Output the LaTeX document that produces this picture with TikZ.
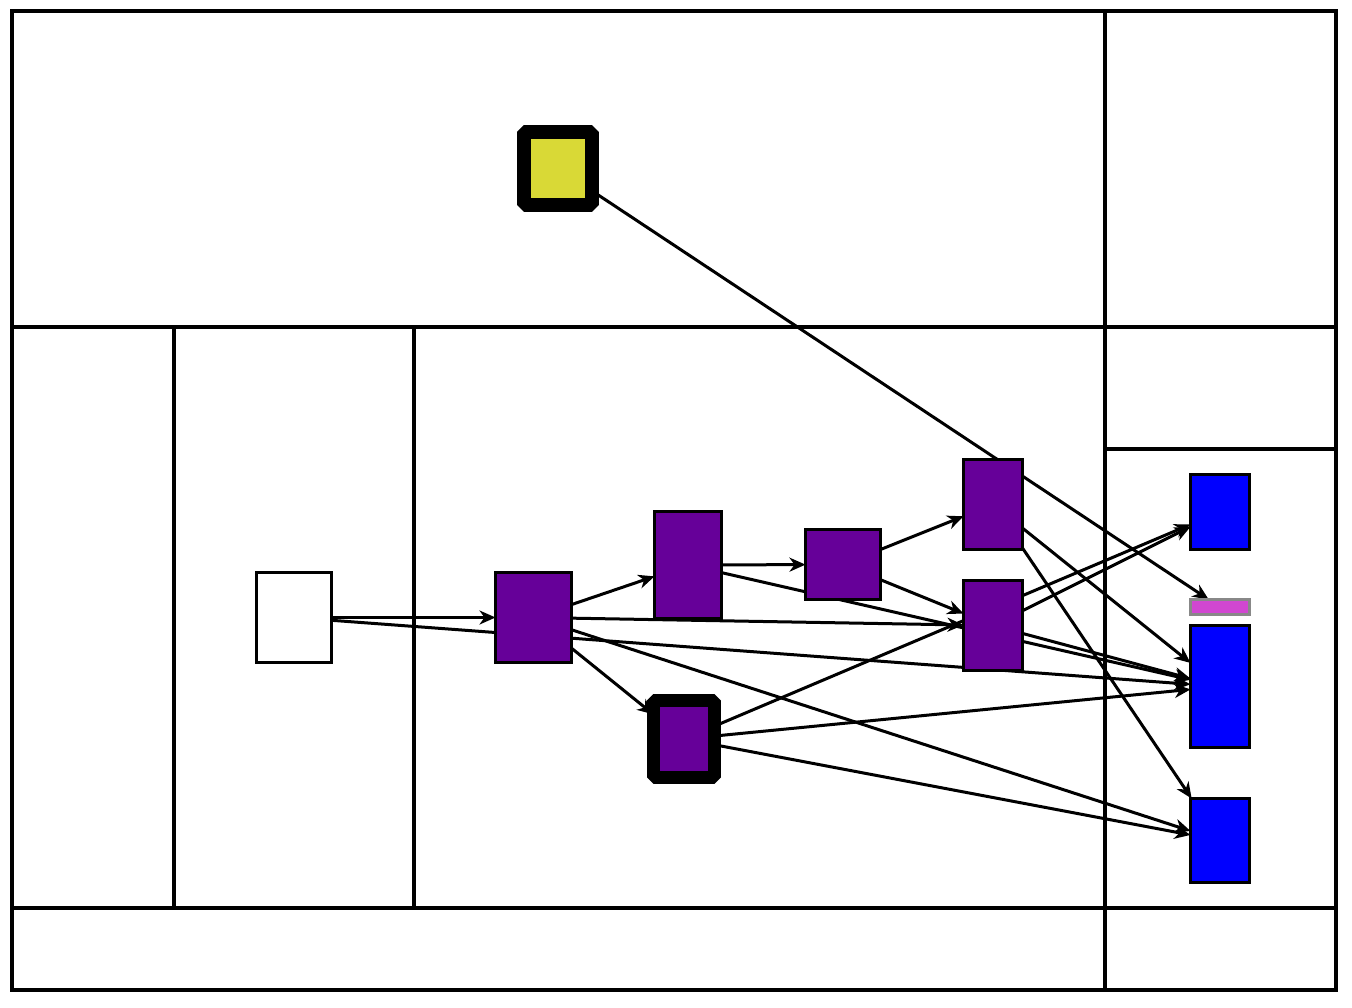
\documentclass[tikz,border=0pt]{standalone}
\usetikzlibrary{arrows.meta,backgrounds}
\definecolor{nodepurple}{RGB}{102,0,153}
\definecolor{nodeyellow}{RGB}{217,217,54}
\definecolor{nodeblue}{RGB}{0,0,255}
\definecolor{nodepink}{RGB}{209,71,209}
\definecolor{pinkborder}{RGB}{136,136,136}
\tikzset{
  box/.style={draw=black, line width=3.5pt, inner sep=0pt, outer sep=0pt},
  purplebox/.style={box, fill=nodepurple},
  bluebox/.style={box, fill=nodeblue},
  heavybox/.style={draw=black, line width=13.5pt, line join=bevel, inner sep=0pt, outer sep=0pt},
  gridline/.style={draw=black, line width=3.5pt},
  edge/.style={draw=black, line width=3pt, -{Stealth[length=16pt,width=14pt,inset=5pt]}},
}
\begin{document}
\begin{tikzpicture}[x=1pt,y=-1pt]
\useasboundingbox (0,0) rectangle (1352,1008);
% nodes
\node[box, fill=white, minimum width=75pt, minimum height=90pt] (w) at (294,617.5) {};
\node[purplebox, minimum width=76pt, minimum height=90pt] (a) at (533.5,617.5) {};
\node[purplebox, minimum width=67pt, minimum height=107pt] (b) at (688,565) {};
\node[purplebox, minimum width=75pt, minimum height=70pt] (c) at (843,564.5) {};
\node[purplebox, minimum width=59pt, minimum height=90pt] (d) at (993,504.5) {};
\node[purplebox, minimum width=59pt, minimum height=90pt] (e) at (993,625.5) {};
\node[heavybox, fill=nodepurple, minimum width=61pt, minimum height=77pt] (f) at (684,739) {};
\node[heavybox, fill=nodeyellow, minimum width=68pt, minimum height=73pt] (y) at (558,168.5) {};
\node[bluebox, minimum width=59pt, minimum height=75pt] (b1) at (1220,512) {};
\node[box, draw=pinkborder, fill=nodepink, minimum width=59pt, minimum height=15pt] (p) at (1220,607) {};
\node[bluebox, minimum width=59pt, minimum height=122pt] (b2) at (1220,686.5) {};
\node[bluebox, minimum width=59pt, minimum height=84pt] (b3) at (1220,840.5) {};
% grid and edges beneath the nodes
\begin{scope}[on background layer]
\draw[gridline] (12,11) rectangle (1336,990);
\draw[gridline] (12,327) -- (1336,327);
\draw[gridline] (12,908) -- (1336,908);
\draw[gridline] (1105,11) -- (1105,990);
\draw[gridline] (174,327) -- (174,908);
\draw[gridline] (414,327) -- (414,908);
\draw[gridline] (1105,449) -- (1336,449);
\draw[edge] (w) -- (a);
\draw[edge] (w) -- (b2);
\draw[edge] (a) -- (b);
\draw[edge] (a) -- (e);
\draw[edge] (a) -- (b3);
\draw[edge] (a) -- (f);
\draw[edge] (b) -- (c);
\draw[edge] (b) -- (b2);
\draw[edge] (c) -- (d);
\draw[edge] (c) -- (e);
\draw[edge] (d) -- (b2);
\draw[edge] (d) -- (b3);
\draw[edge] (e) -- (b1);
\draw[edge] (e) -- (b2);
\draw[edge] (f) -- (b1);
\draw[edge] (f) -- (b2);
\draw[edge] (f) -- (b3);
\draw[edge] (y) -- (p);
\end{scope}
\end{tikzpicture}
\end{document}
